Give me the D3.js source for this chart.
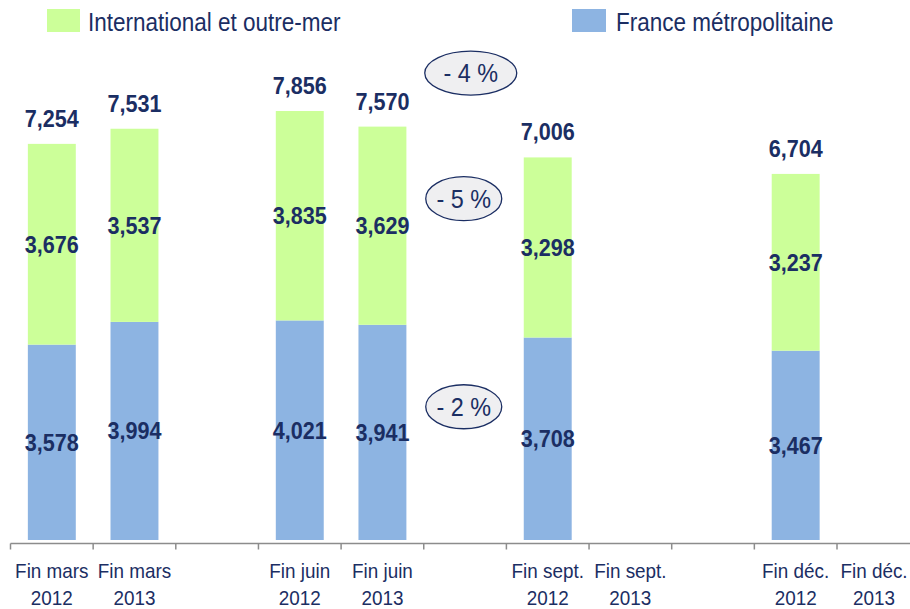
<!DOCTYPE html>
<html lang="fr">
<head>
<meta charset="UTF-8">
<title>Effectifs</title>
<style>
    body { margin: 0; background: #fff; }
    svg text { font-family: "Liberation Sans", Arial, sans-serif; fill: #1b2e63; }
</style>
</head>
<body>
<div id="chart"></div>
<script src="https://d3js.org/d3.v7.min.js"></script>
<script>
// categories, including the empty slots between quarters
var categories = ["m12", "m13", "g1", "j12", "j13", "g2", "s12", "s13", "g3", "d12", "d13"];
var tickLabels = {
    m12: ["Fin mars", "2012"], m13: ["Fin mars", "2013"],
    j12: ["Fin juin", "2012"], j13: ["Fin juin", "2013"],
    s12: ["Fin sept.", "2012"], s13: ["Fin sept.", "2013"],
    d12: ["Fin déc.", "2012"], d13: ["Fin déc.", "2013"]
};
var barCats = ["m12", "m13", "j12", "j13", "s12", "d12"];
var france = [3578, 3994, 4021, 3941, 3708, 3467];
var international = [3676, 3537, 3835, 3629, 3298, 3237];
var totals = [7254, 7531, 7856, 7570, 7006, 6704];
var seriesNames = ["International et outre-mer", "France métropolitaine"];
var changes = [
    {label: "- 4 %", after: "j13", value: 8550, rx: 46},
    {label: "- 5 %", after: "j13", value: 6250, rx: 38},
    {label: "- 2 %", after: "j13", value: 2440, rx: 38}
];

var W = 910, H = 609;
var green = "#ccff99", blue = "#8db4e2";
var stretch = 0.9; // narrow look from a regular sans

var svg = d3.select("#chart").append("svg")
    .attr("width", W)
    .attr("height", H);

var x = d3.scaleBand()
    .domain(categories)
    .range([10.5, 10.5 + 11 * 82.65]);

var y = d3.scaleLinear()
    .domain([0, 7856])
    .range([540, 111]);

var bw = x.bandwidth() * 0.58;

function stext(sel, tx, ty, size, weight) {
    return sel.append("text")
        .attr("transform", "translate(" + tx + "," + ty + ") scale(" + stretch + ",1)")
        .attr("text-anchor", "middle")
        .style("font-size", size + "px")
        .style("font-weight", weight || "normal");
}

var rows = barCats.map(function(c, i) {
    return {cat: c, fr: france[i], intl: international[i], tot: totals[i]};
});

var g = svg.append("g");

g.selectAll(".fr")
    .data(rows)
    .enter().append("rect")
    .attr("x", function(d) { return x(d.cat) + (x.bandwidth() - bw) / 2; })
    .attr("width", bw)
    .attr("y", function(d) { return y(d.fr); })
    .attr("height", function(d) { return y(0) - y(d.fr); })
    .attr("fill", blue);

g.selectAll(".intl")
    .data(rows)
    .enter().append("rect")
    .attr("x", function(d) { return x(d.cat) + (x.bandwidth() - bw) / 2; })
    .attr("width", bw)
    .attr("y", function(d) { return y(d.fr + d.intl); })
    .attr("height", function(d) { return y(d.fr) - y(d.fr + d.intl); })
    .attr("fill", green);

var fmt = d3.format(",");

rows.forEach(function(d) {
    var cx = x(d.cat) + x.bandwidth() / 2;
    stext(g, cx, y(d.tot) - 17, 24, "bold").text(fmt(d.tot));
    stext(g, cx, (y(d.fr) + y(d.tot)) / 2 + 8.5, 24, "bold").text(fmt(d.intl));
    stext(g, cx, (y(0) + y(d.fr)) / 2 + 8.5, 24, "bold").text(fmt(d.fr));
});

// axis
var axisY = 543.5;
var ax = svg.append("g");
ax.append("line")
    .attr("x1", x.range()[0]).attr("x2", W)
    .attr("y1", axisY).attr("y2", axisY)
    .attr("stroke", "#8c8c8c").attr("stroke-width", 1.5);

ax.selectAll(".tick")
    .data(categories)
    .enter().append("line")
    .attr("x1", function(d) { return x(d); })
    .attr("x2", function(d) { return x(d); })
    .attr("y1", axisY).attr("y2", axisY + 6)
    .attr("stroke", "#8c8c8c").attr("stroke-width", 1.5);

categories.forEach(function(c) {
    var lab = tickLabels[c];
    if (!lab) return;
    var cx = Math.min(x(c) + x.bandwidth() / 2, W - 36);
    stext(ax, cx, 578, 21).text(lab[0]);
    stext(ax, cx, 605, 21).text(lab[1]);
});

// change bubbles
changes.forEach(function(c) {
    var cx = x(c.after) + x.bandwidth() + 40;
    var cy = y(c.value);
    if (c.label == "- 4 %") cx += 7;
    svg.append("ellipse")
        .attr("cx", cx).attr("cy", cy)
        .attr("rx", c.rx).attr("ry", 22)
        .attr("fill", "#efeff1")
        .attr("stroke", "#1b2e63").attr("stroke-width", 1.3);
    stext(svg, cx, cy + 9, 26).text(c.label);
});

// legend
var leg = svg.append("g");
leg.append("rect").attr("x", 47).attr("y", 9).attr("width", 33).attr("height", 23).attr("fill", green);
leg.append("text").attr("transform", "translate(88,31) scale(" + stretch + ",1)")
    .style("font-size", "25px").text(seriesNames[0]);
leg.append("rect").attr("x", 572).attr("y", 9).attr("width", 34).attr("height", 23).attr("fill", blue);
leg.append("text").attr("transform", "translate(616,31) scale(" + stretch + ",1)")
    .style("font-size", "25px").text(seriesNames[1]);
</script>
</body>
</html>
